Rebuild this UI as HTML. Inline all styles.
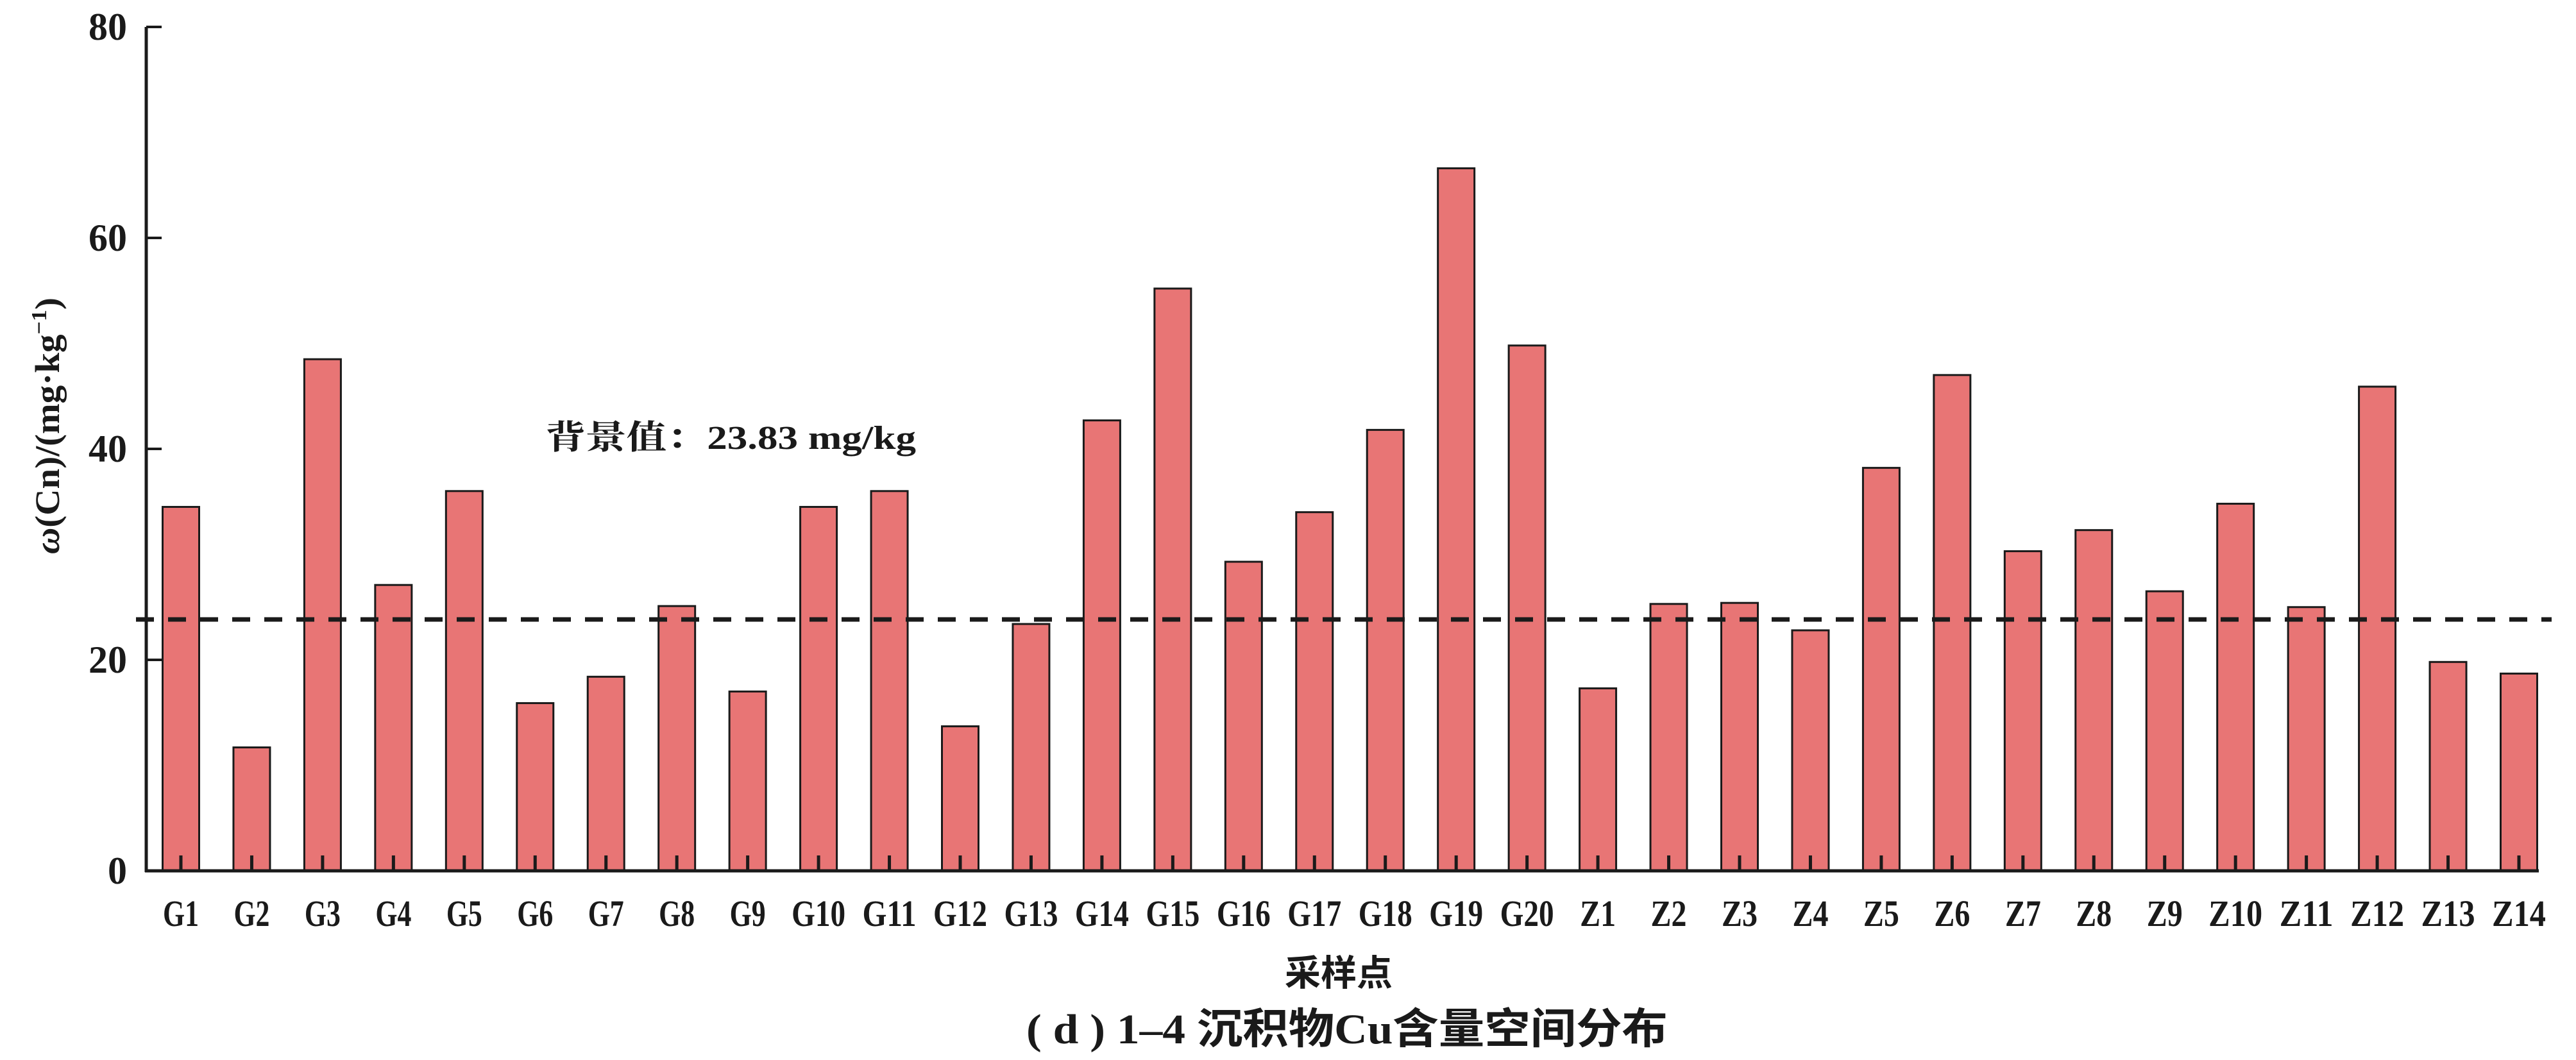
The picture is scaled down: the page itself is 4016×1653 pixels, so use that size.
<!DOCTYPE html>
<html><head><meta charset="utf-8"><style>
html,body{margin:0;padding:0;background:#fff;}
svg{display:block;}
text{fill:#1a1a1a;}
</style></head><body>
<svg id="chart" width="4016" height="1653" viewBox="0 0 4016 1653" xmlns="http://www.w3.org/2000/svg">
<g id="bars"></g>
<g id="axes"></g>
<text transform="translate(92,664) rotate(-90)" text-anchor="middle" font-family="Liberation Serif, serif" font-size="54" font-weight="bold" textLength="400" lengthAdjust="spacingAndGlyphs"><tspan font-style="italic">ω</tspan>(Cn)/(mg·kg<tspan font-size="34" dy="-20">−1</tspan><tspan dy="20">)</tspan></text>
<text x="850" y="700" font-family="Liberation Serif, Noto Serif CJK SC, serif" font-size="52" font-weight="bold" textLength="578" lengthAdjust="spacingAndGlyphs">背景值：23.83 mg/kg</text>
<text x="2087" y="1537" text-anchor="middle" font-family="Liberation Serif, Noto Sans CJK SC, sans-serif" font-size="56" font-weight="bold">采样点</text>
<text x="2100" y="1627" text-anchor="middle" font-family="Liberation Serif, Noto Sans CJK SC, sans-serif" font-size="66" font-weight="bold" textLength="1000" lengthAdjust="spacingAndGlyphs">( d ) 1–4 沉积物Cu含量空间分布</text>
</svg>
<script>
const categories = ["G1","G2","G3","G4","G5","G6","G7","G8","G9","G10","G11","G12","G13","G14","G15","G16","G17","G18","G19","G20","Z1","Z2","Z3","Z4","Z5","Z6","Z7","Z8","Z9","Z10","Z11","Z12","Z13","Z14"];
const values = [34.5,11.7,48.5,27.1,36.0,15.9,18.4,25.1,17.0,34.5,36.0,13.7,23.4,42.7,55.2,29.3,34.0,41.8,66.6,49.8,17.3,25.3,25.4,22.8,38.2,47.0,30.3,32.3,26.5,34.8,25.0,45.9,19.8,18.7];
const yTicks = [0,20,40,60,80];
const backgroundValue = 23.83;

const NS = "http://www.w3.org/2000/svg";
const x0 = 228, x1 = 3958, yBase = 1358, yTop = 42;
const firstC = 282, lastC = 3927, barW = 57;
function yScale(v){ return yBase - (v/80)*(yBase-yTop); }
function xScale(i){ return firstC + i*(lastC-firstC)/(categories.length-1); }
function mk(tag, attrs, parent){ const e=document.createElementNS(NS,tag); for(const k in attrs) e.setAttribute(k,attrs[k]); parent.appendChild(e); return e; }
const bars = document.getElementById('bars'), axes = document.getElementById('axes');

categories.forEach((c,i)=>{
  const cx = xScale(i), top = yScale(values[i]);
  const r = mk('rect',{x:cx-barW/2,y:top,width:barW,height:yBase-top,fill:'#e87575',stroke:'#1a1a1a','stroke-width':3},bars);
  
  
  const t = mk('line',{x1:cx,x2:cx,y1:yBase,y2:yBase-24,stroke:'#1a1a1a','stroke-width':5},axes);
  
  
  const l = mk('text',{x:cx,y:1444,'text-anchor':'middle','font-family':'Liberation Serif, serif','font-size':58,'font-weight':'bold',textLength:c.length*28,lengthAdjust:'spacingAndGlyphs'},axes);
  l.textContent = c;
  
  
});

const ya = mk('line',{x1:x0,x2:x0,y1:yTop,y2:yBase+2,stroke:'#1a1a1a','stroke-width':5},axes);


const xa = mk('line',{x1:x0-2,x2:x1,y1:yBase,y2:yBase,stroke:'#1a1a1a','stroke-width':5},axes);



yTicks.forEach(v=>{
  const y = yScale(v);
  const t = mk('line',{x1:x0,x2:x0+24,y1:y,y2:y,stroke:'#1a1a1a','stroke-width':4},axes);
  
  
  const l = mk('text',{x:198,y:y+20,'text-anchor':'end','font-family':'Liberation Serif, serif','font-size':60,'font-weight':'bold'},axes);
  l.textContent = v;
  
  
});

const by = yScale(backgroundValue);
const bl = mk('line',{x1:212,x2:3978,y1:by,y2:by,stroke:'#1a1a1a','stroke-width':7,'stroke-dasharray':'28 22'},axes);


</script>
</body></html>
